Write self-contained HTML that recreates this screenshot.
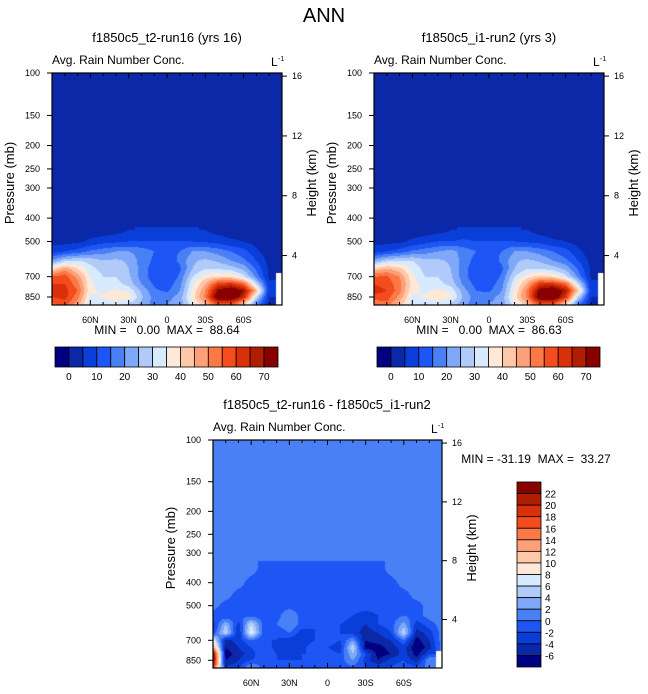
<!DOCTYPE html>
<html><head><meta charset="utf-8">
<style>
body{margin:0;background:#fff;width:648px;height:694px;overflow:hidden;position:relative;font-family:"Liberation Sans",sans-serif;}
canvas{position:absolute;}
svg{position:absolute;left:0;top:0;}
text{font-family:"Liberation Sans",sans-serif;fill:#000;white-space:pre;}
</style></head><body>
<canvas id="c1" width="230" height="232" style="left:52px;top:73px"></canvas>
<canvas id="c2" width="230" height="232" style="left:374px;top:73px"></canvas>
<canvas id="c3" width="229" height="228" style="left:213px;top:440px"></canvas>
<svg id="ov" width="648" height="694"></svg>
<script>
const palette=['#000080','#0a28a8','#0a3ed8','#1e55f5','#4a80f5','#80a8f8','#b0cafa','#d8eafe','#fee8d8','#fec8a8','#fca07a','#fc7845','#f44c1c','#d83008','#b01e00','#880000'];
const lats=[90,80,70,60,50,40,30,20,10,0,-10,-20,-30,-40,-50,-60,-70,-80,-90];
const presTop=[450,500,550,600,650,700,750,800,850,900,950];
const N=NaN;
const run16=[
[2,2,2,2,2,3,5,6,6,6,6,6,5,3,2,2,2,2,2],
[3,3,4,6,8,9,10,10,10,10,10,10,9,8,6,5,3,2,2],
[8,10,12,16,18,20,20,18,15,14,15,20,20,18,15,12,6,2,2],
[20,28,30,28,25,26,24,18,14,12,16,24,26,24,20,16,10,3,2],
[40,48,40,32,28,30,25,18,12,10,14,25,30,30,28,24,14,4,2],
[55,58,48,35,30,30,26,18,12,10,16,30,38,40,40,32,18,4,N],
[60,60,52,36,32,32,28,20,14,12,18,34,45,60,62,55,30,6,N],
[62,62,55,36,34,36,34,24,16,14,20,36,50,72,78,70,45,6,N],
[60,62,52,34,36,40,38,26,18,18,22,38,52,78,80,65,30,5,N],
[55,58,48,32,30,32,30,24,18,20,22,34,45,60,60,45,20,4,N],
[50,52,44,30,28,30,28,22,16,18,20,30,40,52,52,40,16,3,N]];
const run2=[
[2,2,2,2,2,3,5,6,6,6,6,6,5,3,2,2,2,2,2],
[3,3,4,6,8,10,10,11,10,10,10,10,9,8,6,5,3,2,2],
[8,10,12,16,18,20,22,18,15,14,15,20,20,18,15,12,6,2,2],
[22,28,30,30,26,26,24,18,13,12,16,24,26,24,20,16,10,3,2],
[42,46,42,34,28,30,25,17,11,10,14,25,30,30,28,24,14,4,2],
[55,56,50,36,30,30,26,17,11,10,16,30,38,42,40,32,18,4,N],
[60,58,52,38,32,32,28,19,13,12,18,34,46,62,62,55,30,6,N],
[62,60,52,36,34,36,34,22,15,14,20,36,52,74,78,68,42,6,N],
[58,58,48,34,36,40,36,24,17,18,22,38,52,78,80,62,28,5,N],
[52,54,44,32,30,32,30,22,17,20,22,34,45,60,60,44,18,4,N],
[48,50,40,30,28,30,28,20,15,18,20,30,40,52,50,38,14,3,N]];
const presDiff=[350,400,450,500,550,600,650,700,750,800,850,900,950];
const diff=[
[1,1,1,1,-1,-1,-1,-1,-1,-1,-1,-1,-1,-1,1,1,1,1,1],
[1,1,1,-1,-1,-1,0,-1,-1,-1,-1,-1,0,-1,-1,1,1,1,1],
[1,1,-1,-1,-1,0,-1,-1,-1,-1,-1,-1,-1,-1,-1,-1,1,1,1],
[1,-1,-1,-1,-1,-1,-1,-1,-1,-1,-1,-1,-1,-1,-1,-1,-1,1,1],
[-1,-2,0,-1,-1,-1,2,-1,-2,-1,-1,-2,-3,-2,-1,0,-1,1,1],
[-3,4,-3,6,-1,0,2,-1,-2,-1,-2,-3,-4,-2,-1,3,-3,-1,1],
[-2,6,-4,8,-1,-2,0,-3,-2,-1,-2,-3,-5,-4,-2,6,-5,-3,1],
[8,-5,-3,0,-2,-2,-3,-4,-2,-1,-2,2,-6,-5,-4,0,-7,-4,1],
[14,-6,-4,-2,0,-3,-2,-3,0,-2,-3,6,-7,-7,-5,-3,-8,-5,1],
[24,-7,-5,-3,0,-2,-3,-2,-2,-1,-2,4,-2,-7,-6,-3,-7,-2,N],
[24,-6,-4,-2,-1,-2,-2,-2,0,-1,-1,2,-3,-6,-3,-2,-5,2,N],
[20,-4,-3,2,-1,-1,0,-1,-1,-1,-1,0,-2,-3,-2,-1,-2,1,N],
[10,-2,-1,1,-1,-1,0,-1,-1,-1,-1,-1,-1,-1,-1,-1,-1,1,N]];
const presTicks=[100,150,200,250,300,400,500,700,850];
const heightTicks=[4,8,12,16];
const latTicks=[60,30,0,-30,-60];
const latTickLabels=['60N','30N','0','30S','60S'];
const cbTopLabels=[0,10,20,30,40,50,60,70];
const cbDiffLabels=[22,20,18,16,14,12,10,8,6,4,2,0,-2,-4,-6];

function hex(c){return [parseInt(c.substr(1,2),16),parseInt(c.substr(3,2),16),parseInt(c.substr(5,2),16)];}
function interp(grid,plevs,lat,p){
  let fi=(90-lat)/10; let i0=Math.max(0,Math.min(lats.length-2,Math.floor(fi))); let tx=Math.max(0,Math.min(1,fi-i0));
  let j0=0; while(j0<plevs.length-2&&p>plevs[j0+1])j0++;
  let ty=(p-plevs[j0])/(plevs[j0+1]-plevs[j0]); ty=Math.max(0,Math.min(1,ty));
  let ni=tx<0.5?i0:i0+1, nj=ty<0.5?j0:j0+1;
  if(isNaN(grid[nj][ni]))return NaN;
  let s=0,w=0;
  [[j0,i0,(1-tx)*(1-ty)],[j0,i0+1,tx*(1-ty)],[j0+1,i0,(1-tx)*ty],[j0+1,i0+1,tx*ty]].forEach(([j,i,ww])=>{const v=grid[j][i];if(!isNaN(v)){s+=v*ww;w+=ww;}});
  return w>0?s/w:NaN;
}
function drawField(id,grid,plevs,scale,levIdx,bg){
  const cv=document.getElementById(id),ctx=cv.getContext('2d'),W=cv.width,H=cv.height;
  const img=ctx.createImageData(W,H);const pal=palette.map(hex);
  const ptop=plevs[0]-(plevs[1]-plevs[0]);
  for(let y=0;y<H;y++){const p=100*Math.pow(10,(y+0.5)/scale);
    for(let x=0;x<W;x++){const lat=90-(x+0.5)/W*180;
      let v;
      if(p<ptop) v=bg;
      else if(p<plevs[0]){const t=(p-ptop)/(plevs[0]-ptop);const g=grid[0][Math.round((90-lat)/10)];v=bg+(g-bg)*t;}
      else v=interp(grid,plevs,lat,p);
      let c=isNaN(v)?[255,255,255]:pal[levIdx(v)];
      const k=(y*W+x)*4;img.data[k]=c[0];img.data[k+1]=c[1];img.data[k+2]=c[2];img.data[k+3]=255;}}
  ctx.putImageData(img,0,0);
}
const idxTop=v=>v<0?0:Math.min(15,Math.floor(v/5)+1);
const idxDiff=v=>v<-6?0:Math.min(15,Math.floor((v+6)/2)+1);
drawField('c1',run16,presTop,241,idxTop,2);
drawField('c2',run2,presTop,241,idxTop,2);
drawField('c3',diff,presDiff,237,idxDiff,1);

const ov=document.getElementById('ov');const NS='http://www.w3.org/2000/svg';
function el(tag,attrs,txt){const e=document.createElementNS(NS,tag);for(const k in attrs)e.setAttribute(k,attrs[k]);if(txt!==undefined)e.textContent=txt;ov.appendChild(e);return e;}
function txt(x,y,s,size,anchor,name,rot){const e=el('text',{x:x,y:y,'font-size':size,'text-anchor':anchor||'start'},s);
  
  
  if(rot)e.setAttribute('transform','rotate(-90 '+x+' '+y+')');return e;}
function line(x1,y1,x2,y2,name){const e=el('line',{x1:x1,y1:y1,x2:x2,y2:y2,stroke:'#000','stroke-width':1});
  
  }

txt(324,22,'ANN',20,'middle','main-title');
function panel(L,T,W,H,scale,title,tcx,mm,mmx,mmy){
  const xs=lat=>L+(90-lat)/180*W, ys=p=>T+scale*Math.log10(p/100);
  const r=el('rect',{x:L,y:T,width:W,height:H,fill:'none',stroke:'#000','stroke-width':1.2});
  
  
  txt(tcx,T-31,title,13,'middle','panel-title');
  txt(L,T-9,'Avg. Rain Number Conc.',12,'start','variable-label');
  txt(L+W-11,T-7,'L',12,'start','units-label');
  txt(L+W-4,T-12,'-1',7,'start','units-exponent');
  presTicks.forEach(p=>{const y=ys(p);line(L-5,y,L,y,'pressure-tick');txt(L-12,y+3,String(p),9,'end','pressure-tick-label');});
  txt(L-38,T+H/2-6,'Pressure (mb)',13,'middle','y-axis-title',true);
  heightTicks.forEach(h=>{const p=1013*Math.exp(-h/7);const y=ys(p);line(L+W,y,L+W+5,y,'height-tick');txt(L+W+10,y+3,String(h),9,'start','height-tick-label');});
  txt(L+W+34,T+H/2-6,'Height (km)',13,'middle','right-axis-title',true);
  for(let lat=80;lat>=-80;lat-=10){const x=xs(lat);const major=lat%30===0;line(x,T+H,x,T+H-(major?5:3),'lat-tick');line(x,T,x,T+(major?5:3),'lat-tick-top');}
  latTicks.forEach((lat,i)=>txt(xs(lat),T+H+18,latTickLabels[i],9,'middle','lat-tick-label'));
  txt(mmx,mmy,mm,12,'middle','min-max-label');
}
panel(52,73,230,232,241,'f1850c5_t2-run16 (yrs 16)',167,'MIN =   0.00  MAX =  88.64',167,334);
panel(374,73,230,232,241,'f1850c5_i1-run2 (yrs 3)',489,'MIN =   0.00  MAX =  86.63',489,334);
panel(213,440,229,228,237,'f1850c5_t2-run16 - f1850c5_i1-run2',327,'MIN = -31.19  MAX =  33.27',536,463);
function hbar(L,T,W,H){const bw=W/16;for(let i=0;i<16;i++){const r=el('rect',{x:L+i*bw,y:T,width:bw,height:H,fill:palette[i],stroke:'#000','stroke-width':0.8});
  
  }
  cbTopLabels.forEach((v,i)=>txt(L+(v/5+1)*bw,T+H+13,String(v),10,'middle','colorbar-label'));}
hbar(55,347,223,20);hbar(377,347,223,20);
(function(){const L=517,T=482,W=24,H=185,bh=H/16;for(let i=0;i<16;i++){const r=el('rect',{x:L,y:T+i*bh,width:W,height:bh,fill:palette[15-i],stroke:'#000','stroke-width':0.8});
  
  }
  cbDiffLabels.forEach(v=>{const y=T+(15-((v+6)/2+1)+1)*bh;txt(L+28,y+4,String(v),10,'start','diff-colorbar-label');});})();
</script>
</body></html>
